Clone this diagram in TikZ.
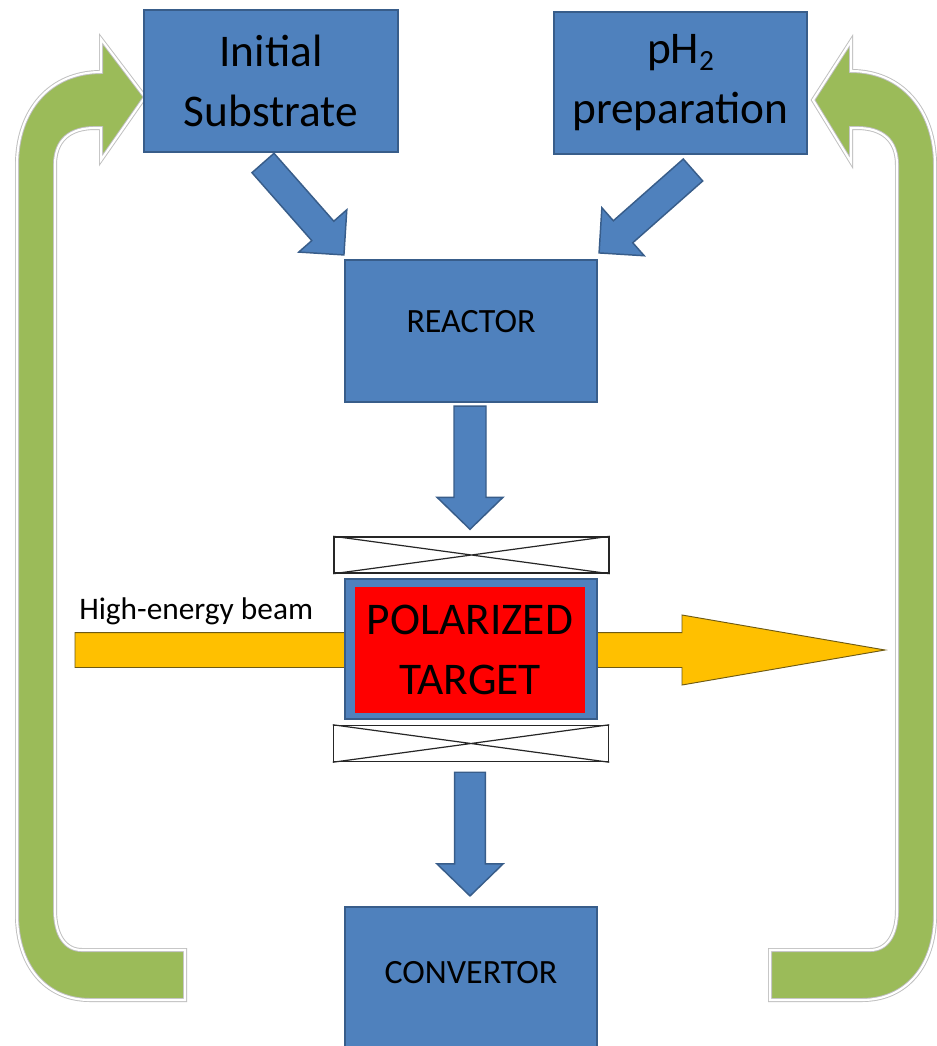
\documentclass[tikz,border=0pt]{standalone}
\usepackage{fontspec}
\setmainfont{Carlito}
\usetikzlibrary{calc}

\definecolor{boxblue}{RGB}{79,129,189}
\definecolor{boxedge}{RGB}{56,93,138}
\definecolor{loopgreen}{RGB}{155,187,89}
\definecolor{beamyellow}{RGB}{255,192,0}
\definecolor{beamedge}{RGB}{110,90,20}

% block arrow: #1 style, #2 tail, #3 tip, #4 half shaft, #5 half head, #6 head length
\newcommand{\blockarrow}[6]{%
  \coordinate (neck) at ($(#3)!#6!(#2)$);
  \filldraw[#1] ($(#2)!#4!90:(#3)$) -- ($(neck)!#4!90:(#3)$) -- ($(neck)!#5!90:(#3)$) -- (#3)
    -- ($(neck)!#5!-90:(#3)$) -- ($(neck)!#4!-90:(#3)$) -- ($(#2)!#4!-90:(#3)$) -- cycle;
}

\begin{document}
\begin{tikzpicture}[x=0.75pt,y=0.75pt,yscale=-1,xscale=1,
  stage/.style={draw=boxedge, fill=boxblue, line width=1.6pt, inner sep=0pt, align=center},
  bigtext/.style={font=\fontsize{34}{45}\selectfont},
  smalltext/.style={font=\fontsize{25.5}{30}\selectfont},
  flow/.style={draw=boxedge, fill=boxblue, line width=1.1pt, line join=miter},
  coil/.style={draw=black!85, fill=white, line width=1.1pt, minimum width=206.25pt, minimum height=27pt, inner sep=0pt},
  loop/.style={fill=loopgreen, draw=black!25, line width=0.7pt, double=white, double distance=1.6pt}]
\useasboundingbox (0,0) rectangle (937,1046);
\fill[white] (0,0) rectangle (937,1046);

%Shape: Polygon Curved [return loop left]
\filldraw[loop] (185,950) -- (82,950) .. controls (65,950) and (55,935) .. (55,910) -- (55,165) .. controls (55,140) and (70,128) .. (95,128) -- (101,128) -- (101,160) -- (145,97) -- (101,39) -- (101,72) .. controls (50,72) and (17,110) .. (17,165) -- (17,915) .. controls (17,965) and (45,1000) .. (90,1000) -- (185,1000) -- cycle;
%Shape: Polygon Curved [return loop right]
\filldraw[loop] (770,950) -- (870,950) .. controls (887,950) and (897,935) .. (897,910) -- (897,165) .. controls (897,140) and (882,128) .. (857,128) -- (851,128) -- (851,162) -- (813,100) -- (851,41) -- (851,71) .. controls (902,71) and (935,110) .. (935,165) -- (935,915) .. controls (935,965) and (907,1000) .. (862,1000) -- (770,1000) -- cycle;

% Stages
\node[stage, bigtext, minimum width=190.5pt, minimum height=106.5pt] (substrate) at (271,81) {Initial\\Substrate};
\node[stage, bigtext, minimum width=189.75pt, minimum height=106.5pt] (ph2) at (680.5,83) {pH\raisebox{-0.3ex}{\fontsize{22}{22}\selectfont 2}\\preparation};
\node[stage, smalltext, minimum width=189pt, minimum height=106.5pt, text depth=15pt] (reactor) at (471,331) {REACTOR};
\node[stage, smalltext, minimum width=189pt, minimum height=105pt, text depth=7pt] (convertor) at (471,977) {CONVERTOR};

%Shape: Beam
\coordinate (beam in) at (75,650);
\coordinate (beam out) at (885,650);
\blockarrow{fill=beamyellow, draw=beamedge, line width=0.7pt}{beam in}{beam out}{13.1pt}{26.25pt}{152.25pt}
% Text Node
\node[anchor=west, inner sep=0pt, font=\fontsize{23.5}{27}\selectfont] (beam label) at (79,611) {High-energy beam};

% Polarized target and coils
\node[stage, minimum width=189pt, minimum height=105pt] (target) at (471,649) {};
\node[fill=red, minimum width=172.5pt, minimum height=94.5pt, inner sep=0pt, align=center, bigtext] (target core) at (470,650) {POLARIZED\\TARGET};
\node[coil] (coil top) at (471.5,555) {};
\node[coil] (coil bottom) at (471,743.5) {};
\draw[black!85, line width=0.9pt] (coil top.north west) -- (coil top.south east) (coil top.south west) -- (coil top.north east);
\draw[black!85, line width=0.9pt] (coil bottom.north west) -- (coil bottom.south east) (coil bottom.south west) -- (coil bottom.north east);

% Flow arrows
\coordinate (sub out) at (263,163);
\coordinate (sub in) at ($(reactor.north west)+(0,-4)$);
\blockarrow{flow}{sub out}{sub in}{11pt}{24pt}{24pt}
\coordinate (ph2 out) at (693,170);
\coordinate (ph2 in) at ($(reactor.north east)+(1,-6)$);
\blockarrow{flow}{ph2 out}{ph2 in}{11pt}{24pt}{24pt}
\coordinate (reactor out) at ($(reactor.south)+(-1,3)$);
\coordinate (target in) at ($(coil top.north)+(-1.5,-7)$);
\blockarrow{flow}{reactor out}{target in}{12pt}{24.75pt}{24pt}
\coordinate (target out) at ($(coil bottom.south)+(-1,10)$);
\coordinate (convertor in) at ($(convertor.north)+(-1,-10)$);
\blockarrow{flow}{target out}{convertor in}{11.5pt}{24.75pt}{24pt}
\end{tikzpicture}
\end{document}
